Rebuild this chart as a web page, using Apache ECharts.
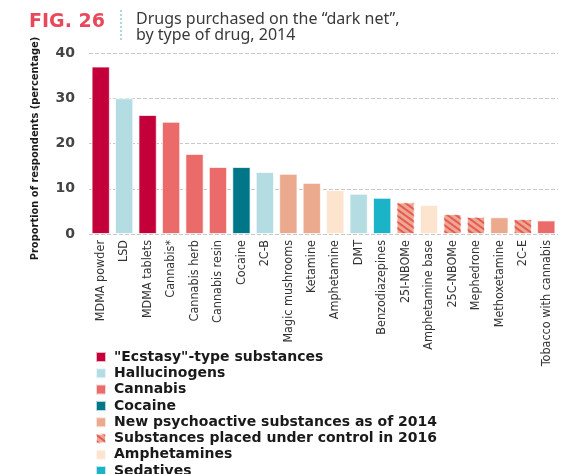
<!DOCTYPE html>
<html>
<head>
<meta charset="utf-8">
<script src="https://cdn.jsdelivr.net/npm/echarts@6/dist/echarts.min.js"></script>
<style>
  html, body { margin: 0; padding: 0; background: #fff; }
  #chart { width: 578px; height: 474px; }
</style>
</head>
<body>
<div id="chart"></div>
<script>
// categories, in the order they appear on the x axis
var drugs = ['MDMA powder', 'LSD', 'MDMA tablets', 'Cannabis*', 'Cannabis herb', 'Cannabis resin',
    'Cocaine', '2C-B', 'Magic mushrooms', 'Ketamine', 'Amphetamine', 'DMT', 'Benzodiazepines',
    '25I-NBOMe', 'Amphetamine base', '25C-NBOMe', 'Mephedrone', 'Methoxetamine', '2C-E',
    'Tobacco with cannabis'];
// percentage of respondents
var shares = [37, 30, 26.3, 24.8, 17.7, 14.8, 14.8, 13.7, 13.3, 11.3, 9.7, 8.9, 8.0,
    7.0, 6.4, 4.4, 3.8, 3.7, 3.3, 3.0];
// group of each drug (index into groupNames)
var drugGroup = [0, 1, 0, 2, 2, 2, 3, 1, 4, 4, 6, 1, 7, 5, 6, 5, 5, 4, 5, 2];

var groupNames = ['"Ecstasy"-type substances', 'Hallucinogens', 'Cannabis', 'Cocaine',
    'New psychoactive substances as of 2014', 'Substances placed under control in 2016',
    'Amphetamines', 'Sedatives'];
var groupColors = ['#c4003a', '#b3dde3', '#eb6a6a', '#007788', '#eba98e', '#eba98e',
    '#fde4cf', '#1bb3c8'];

var narrow = '"DejaVu Sans Condensed", "Liberation Sans Narrow", sans-serif';

var myChart = echarts.init(document.getElementById('chart'));

var series = groupNames.map(function (name, g) {
    var style = { color: groupColors[g], borderColor: 'rgba(255,255,255,0.7)', borderWidth: 1 };
    if (g === 5) {
        // hatched bars
        style.decal = {
            symbol: 'rect',
            symbolSize: 1,
            color: '#e8585a',
            dashArrayX: [1, 0],
            dashArrayY: [2, 3],
            rotation: Math.PI / 5
        };
    }
    return {
        name: name,
        type: 'bar',
        stack: 'all',
        barWidth: '78%',
        itemStyle: style,
        data: shares.map(function (v, i) { return drugGroup[i] === g ? v : null; })
    };
});

var option = {
    animation: false,
    title: [
        {
            text: 'FIG. 26',
            left: 24, top: 8,
            textStyle: { color: '#e8495a', fontSize: 19, fontWeight: 'bold', fontFamily: 'DejaVu Sans' }
        },
        {
            text: 'Drugs purchased on the \u201cdark net\u201d,\nby type of drug, 2014',
            left: 131, top: 6,
            textStyle: { color: '#3a3a3a', fontSize: 16, fontWeight: 'normal', fontFamily: 'Noto Sans', lineHeight: 16 }
        }
    ],
    graphic: [{
        type: 'line',
        shape: { x1: 121, y1: 10, x2: 121, y2: 42 },
        style: { stroke: '#5ab4c9', lineWidth: 1, lineDash: [2, 2] }
    }],
    grid: { left: 89, right: 20, top: 53, bottom: 240 },
    legend: {
        orient: 'vertical',
        left: 95, top: 350,
        height: 150,
        padding: 0,
        itemWidth: 10, itemHeight: 10,
        itemGap: 2.3,
        icon: 'rect',
        textStyle: { fontSize: 14, lineHeight: 14, fontWeight: 'bold', color: '#1a1a1a', fontFamily: 'DejaVu Sans', padding: [0, 0, 0, 3] },
        data: groupNames
    },
    xAxis: {
        type: 'category',
        data: drugs,
        axisLine: { show: false },
        axisTick: { show: false },
        axisLabel: {
            rotate: 90, interval: 0, margin: 6,
            fontSize: 12.5, color: '#333', fontFamily: narrow
        }
    },
    yAxis: {
        type: 'value',
        min: 0, max: 40, interval: 10,
        name: 'Proportion of respondents (percentage)',
        nameLocation: 'middle',
        nameGap: 48,
        nameTextStyle: { fontSize: 11, fontWeight: 'bold', color: '#1a1a1a', fontFamily: narrow, padding: [0, 10, 0, 0] },
        axisLabel: { fontSize: 14, fontWeight: 'bold', color: '#444', margin: 14, fontFamily: 'DejaVu Sans' },
        splitLine: { lineStyle: { type: 'dashed', color: '#c8c8c8' } }
    },
    series: series
};

myChart.setOption(option);
</script>
</body>
</html>
